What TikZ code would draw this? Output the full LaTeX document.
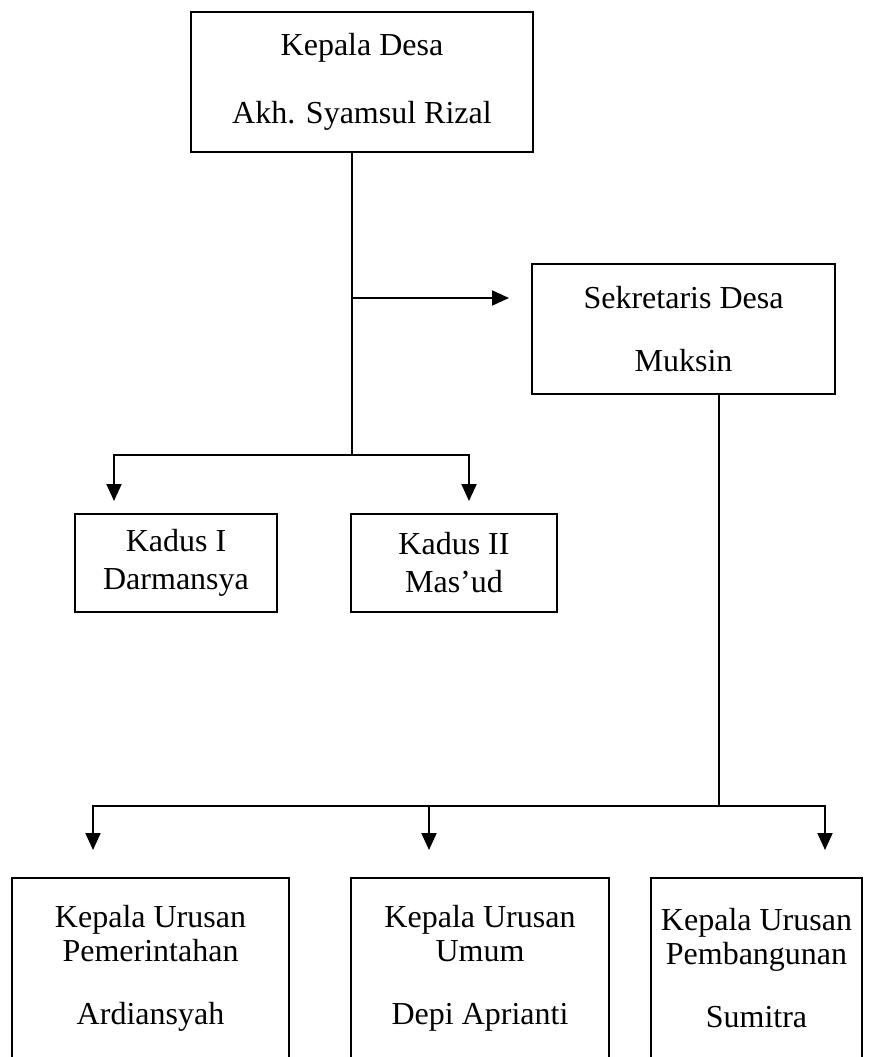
\documentclass[tikz,border=0pt]{standalone}
\usepackage{fontspec}
\setmainfont{Liberation Serif}
\usetikzlibrary{arrows.meta,positioning}

\begin{document}
\begin{tikzpicture}[x=1pt,y=-1pt,>={Triangle[length=17pt,width=15pt]},
box/.style={draw,line width=2pt,align=center,inner sep=0pt,font=\fontsize{32}{34}\selectfont},
link/.style={line width=2pt}]
\useasboundingbox (0,0) rectangle (882,1057);
\clip (0,0) rectangle (882,1057);
% boxes
\node[box,minimum width=342pt,minimum height=140pt] (kades) at (362,82) {Kepala Desa\\[34pt]Akh. Syamsul Rizal};
\node[box,minimum width=303pt,minimum height=130pt] (sekdes) at (683.5,329) {Sekretaris Desa\\[29pt]Muksin};
\node[box,minimum width=202pt,minimum height=98pt] (kadus1) at (176,563) {Kadus I\\[4pt]Darmansya};
\node[box,minimum width=206pt,minimum height=98pt] (kadus2) at (454,563) {Kadus II\\[4pt]Mas’ud};
\node[box,minimum width=277pt,minimum height=181pt] (kaur1) at (150.5,968.5) {Kepala Urusan\\Pemerintahan\\[29pt]Ardiansyah};
\node[box,minimum width=258pt,minimum height=181pt] (kaur2) at (480,968.5) {Kepala Urusan\\Umum\\[29pt]Depi Aprianti};
\node[box,minimum width=211pt,minimum height=181pt] (kaur3) at (756.5,968.5) {Kepala Urusan\\Pembangunan\\[29pt]Sumitra};
% connectors
\coordinate (hub) at ([xshift=-10pt]kades.south |- 0,455);
\coordinate (split) at (hub |- 0,298);
\coordinate (hub2) at ([xshift=35.5pt]sekdes.south |- 0,806);
\draw[link] ([xshift=-10pt]kades.south) -- (hub);
\draw[link,->,shorten >=22pt] (split) -- (split -| sekdes.west);
\draw[link,->,shorten >=12pt] (hub) -| ([xshift=-62pt]kadus1.north);
\draw[link,->,shorten >=12pt] (hub) -| ([xshift=15pt]kadus2.north);
\draw[link] ([xshift=35.5pt]sekdes.south) -- (hub2);
\draw[link,->,shorten >=27pt] (hub2) -| ([xshift=-57.5pt]kaur1.north);
\draw[link,->,shorten >=27pt] (hub2) -| ([xshift=-51pt]kaur2.north);
\draw[link,->,shorten >=27pt] (hub2) -| ([xshift=68.5pt]kaur3.north);
\end{tikzpicture}
\end{document}
